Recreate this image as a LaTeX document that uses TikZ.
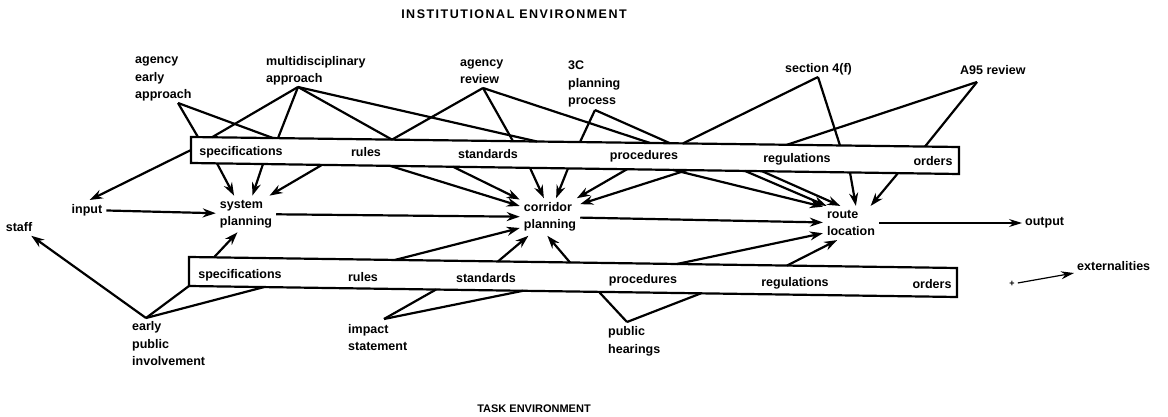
\documentclass[tikz,border=0pt]{standalone}
\usepackage{fontspec}
\setmainfont{Liberation Sans}
\newfontfamily\capsfont[LetterSpace=12]{Liberation Sans}
\usetikzlibrary{arrows.meta,calc}

\begin{document}
\begin{tikzpicture}[x=1pt,y=-1pt,
    txt/.style={font=\fontsize{12.5}{17.5}\selectfont\bfseries,inner sep=0pt,align=left},
    head/.style={font=\capsfont\fontsize{12.5}{15}\selectfont\bfseries,inner sep=0pt},
    stage/.style={txt,inner sep=4pt},
    ln/.style={line width=2.2pt},
    arr/.style={ln,-{Stealth[length=13pt,width=9pt]}},
    thin arr/.style={line width=1.2pt,-{Stealth[length=13pt,width=8pt]}}]
  \useasboundingbox (0,0) rectangle (1168,417);

  \node[head] (inst) at (514,14) {INSTITUTIONAL ENVIRONMENT};
  \node[txt,font=\fontsize{11}{13}\selectfont\bfseries] (task) at (534,409) {TASK ENVIRONMENT};

  % the two long boxes
  \coordinate (i-nw) at (191,137); \coordinate (i-ne) at (959,147);
  \coordinate (i-se) at (959,174); \coordinate (i-sw) at (191,163);
  \coordinate (t-nw) at (189,257); \coordinate (t-ne) at (957,268);
  \coordinate (t-se) at (957,297); \coordinate (t-sw) at (189,286);
  \draw[ln] (i-nw) -- (i-ne) -- (i-se) -- (i-sw) -- cycle;
  \draw[ln] (t-nw) -- (t-ne) -- (t-se) -- (t-sw) -- cycle;
  \coordinate (i-w) at ($(i-nw)!0.5!(i-sw)$);

  \foreach \n/\t/\x/\y in {spec/specifications/241/152, rules/rules/366/152,
      std/standards/488/154, proc/procedures/644/156,
      reg/regulations/797/159, ord/orders/933/161}
    \node[txt] (i-\n) at (\x,\y) {\t};
  \foreach \n/\t/\x/\y in {spec/specifications/240/275, rules/rules/363/277,
      std/standards/486/278, proc/procedures/643/280,
      reg/regulations/795/283, ord/orders/932/284}
    \node[txt] (t-\n) at (\x,\y) {\t};

  % points on the box edges
  \foreach \x in {198,212,273,278,392,513,537,580,650,670,683,787,840,925}
    \coordinate (it\x) at ($(i-nw)!{(\x-191)/768}!(i-ne)$);
  \foreach \x in {217,263,322,390,453,530,568,627,673,687,745,762,850,898}
    \coordinate (ib\x) at ($(i-sw)!{(\x-191)/768}!(i-se)$);
  \foreach \x in {214,395,498,570,677,787}
    \coordinate (tt\x) at ($(t-nw)!{(\x-189)/768}!(t-ne)$);
  \foreach \x in {264,436,523,599,701}
    \coordinate (tb\x) at ($(t-sw)!{(\x-189)/768}!(t-se)$);

  % institutional sources
  \node[txt,anchor=west] (aea) at (135,79) {agency\\early\\approach};
  \node[txt,anchor=west] (multi) at (266,71) {multidisciplinary\\approach};
  \node[txt,anchor=west] (rev) at (460,71.5) {agency\\review};
  \node[txt,anchor=west] (thrc) at (568,84) {3C\\planning\\process};
  \node[txt,anchor=west] (sec) at (785,69) {section 4(f)};
  \node[txt,anchor=west] (a95) at (960,70) {A95 review};
  \coordinate (aea-j) at (178,103);
  \coordinate (multi-j) at (298,87);
  \coordinate (rev-j) at (483,88);
  \coordinate (thrc-j) at (595,110);
  \coordinate (sec-j) at (818,77);
  \coordinate (a95-j) at (977,82);

  % task sources
  \node[txt,anchor=west] (epi) at (132,344) {early\\public\\involvement};
  \node[txt,anchor=west] (imp) at (348,337.5) {impact\\statement};
  \node[txt,anchor=west] (ph) at (608,341.5) {public\\hearings};
  \coordinate (epi-j) at (146,318);
  \coordinate (imp-j) at (384,319);
  \coordinate (ph-j) at (627,322);

  % planning stages
  \node[stage] (inp) at (87,210) {input};
  \node[stage] (staff) at (19,227) {staff};
  \node[stage] (sys) at (246,214) {system\\planning};
  \node[stage] (cor) at (550,217) {corridor\\planning};
  \node[stage] (rte) at (851,223) {route\\location};
  \node[txt,anchor=west,inner sep=3pt] (out) at (1022,223) {output};
  \node[txt,anchor=west,inner sep=3pt] (ext) at (1074,266) {externalities};
  \node[txt,font=\fontsize{9}{10}\selectfont\bfseries,inner sep=3pt] (plus) at (1012,284) {+};

  \foreach \x in {198,273} \draw[ln] (aea-j) -- (it\x);
  \foreach \x in {212,278,392,537} \draw[ln] (multi-j) -- (it\x);
  \foreach \x in {392,513,650} \draw[ln] (rev-j) -- (it\x);
  \foreach \x in {580,670} \draw[ln] (thrc-j) -- (it\x);
  \foreach \x in {683,840} \draw[ln] (sec-j) -- (it\x);
  \foreach \x in {787,925} \draw[ln] (a95-j) -- (it\x);

  \draw[ln] (epi-j) -- (t-sw);
  \draw[ln] (epi-j) -- (tb264);
  \foreach \x in {436,523} \draw[ln] (imp-j) -- (tb\x);
  \foreach \x in {599,701} \draw[ln] (ph-j) -- (tb\x);

  % arrows out of the boxes
  \draw[arr] (i-w) -- (inp.75);
  \foreach \x/\a in {217/123,263/71,322/38} \draw[arr] (ib\x) -- (sys.\a);
  \foreach \x/\a in {390/160,453/150,530/108,568/72,627/35,687/23}
    \draw[arr] (ib\x) -- (cor.\a);
  \foreach \x/\a in {673/150,745/145,762/122,850/74,898/41}
    \draw[arr] (ib\x) -- (rte.\a);
  \draw[arr] (tt214) -- (sys.-115);
  \foreach \x/\a in {395/200,498/221,570/-98} \draw[arr] (tt\x) -- (cor.\a);
  \foreach \x/\a in {677/200,787/231} \draw[arr] (tt\x) -- (rte.\a);

  % main line
  \draw[arr] (inp) -- (sys);
  \draw[arr] (sys) -- (cor);
  \draw[arr] (cor) -- (rte);
  \draw[thin arr] (rte) -- (out);
  \draw[thin arr] (plus) -- (ext);
  \draw[arr] (epi-j) -- (staff);
\end{tikzpicture}
\end{document}
